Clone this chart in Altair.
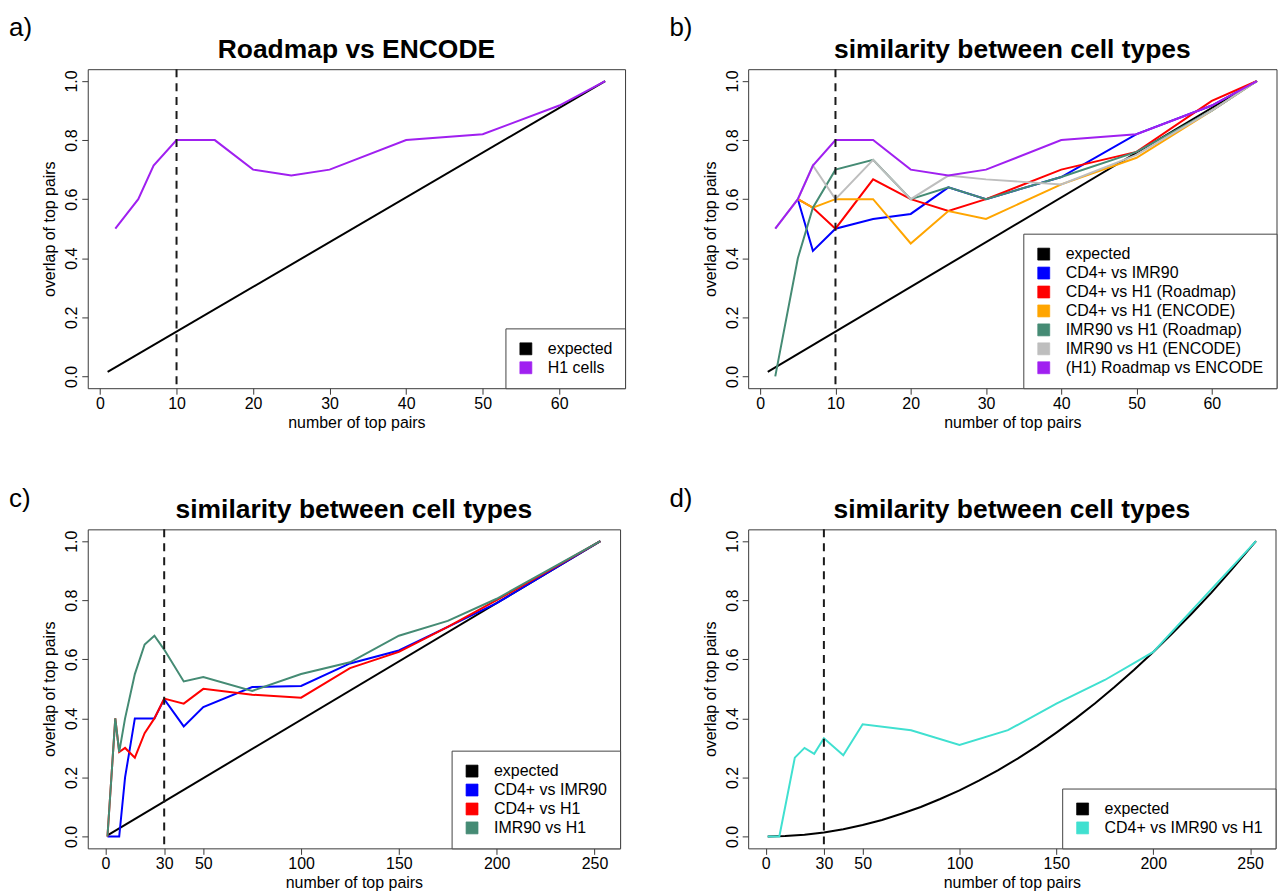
import altair as alt
import pandas as pd

FONT = "Liberation Sans"

# ---------------- panel a ----------------
a_x = [2, 5, 7, 10, 15, 20, 25, 30, 40, 50, 60, 66]
a_h1_cells = [0.5, 0.6, 0.714, 0.8, 0.8, 0.7, 0.68, 0.7, 0.8, 0.82, 0.917, 1.0]
a_exp_x = [1, 66]
a_exp_y = [0.015, 1.0]

# ---------------- panel b ----------------
b_x = [2, 5, 7, 10, 15, 20, 25, 30, 40, 50, 60, 66]
b_cd4_imr90 = [None, 0.6, 0.425, 0.5, 0.533, 0.55, 0.64, 0.6, 0.675, 0.82, 0.917, 1.0]
b_cd4_h1_roadmap = [None, 0.6, 0.571, 0.5, 0.667, 0.6, 0.56, 0.6, 0.7, 0.76, 0.933, 1.0]
b_cd4_h1_encode = [None, 0.6, 0.571, 0.6, 0.6, 0.45, 0.56, 0.533, 0.65, 0.74, 0.9, 1.0]
b_imr90_h1_roadmap = [0.0, 0.4, 0.571, 0.7, 0.733, 0.6, 0.64, 0.6, 0.675, 0.76, 0.9, 1.0]
b_imr90_h1_encode = [0.5, 0.6, 0.714, 0.6, 0.733, 0.6, 0.68, 0.667, 0.65, 0.75, 0.9, 1.0]
b_h1_roadmap_encode = [0.5, 0.6, 0.714, 0.8, 0.8, 0.7, 0.68, 0.7, 0.8, 0.82, 0.917, 1.0]
b_exp_x = [1, 66]
b_exp_y = [0.015, 1.0]

# ---------------- panel c ----------------
c_x = [1, 5, 7, 10, 15, 20, 25, 30, 40, 50, 75, 100, 125, 150, 175, 200, 253]
c_cd4_imr90 = [0, 0, 0, 0.2, 0.4, 0.4, 0.4, 0.465, 0.373, 0.438, 0.506, 0.51, 0.586, 0.63, 0.71, 0.79, 1.0]
c_cd4_h1 = [0, 0.4, 0.286, 0.3, 0.267, 0.35, 0.4, 0.467, 0.45, 0.5, 0.48, 0.47, 0.57, 0.625, 0.71, 0.8, 1.0]
c_imr90_h1 = [0, 0.4, 0.286, 0.4, 0.55, 0.65, 0.68, 0.633, 0.525, 0.54, 0.493, 0.55, 0.59, 0.68, 0.73, 0.805, 1.0]
c_exp_x = [1, 253]
c_exp_y = [0.004, 1.0]

# ---------------- panel d ----------------
d_x = [1, 5, 7, 10, 15, 20, 25, 30, 40, 50, 75, 100, 125, 150, 175, 200, 253]
d_cd4_imr90_h1 = [0, 0, 0, 0.1, 0.267, 0.3, 0.28, 0.333, 0.275, 0.38, 0.36, 0.31, 0.36, 0.45, 0.53, 0.625, 1.0]
d_exp_x = [1, 10, 20, 30, 40, 50, 60, 70, 80, 90, 100, 110, 120, 130, 140, 150,
           160, 170, 180, 190, 200, 210, 220, 230, 240, 253]
d_exp_y = [0.0, 0.002, 0.006, 0.014, 0.025, 0.039, 0.056, 0.077, 0.100, 0.127, 0.156,
           0.189, 0.225, 0.264, 0.306, 0.352, 0.400, 0.451, 0.506, 0.564, 0.625, 0.689,
           0.756, 0.826, 0.900, 1.0]

# vertical dashed cut-offs
ab_cut = [10]
cd_cut = [30]

ab_ticks = [0, 10, 20, 30, 40, 50, 60]
cd_ticks = [0, 30, 50, 100, 150, 200, 250]
y_ticks = [0.0, 0.2, 0.4, 0.6, 0.8, 1.0]

C_EXP = "#000000"
C_BLUE = "#0000FF"
C_RED = "#FF0000"
C_ORANGE = "#FFA500"
C_GREEN = "#458B74"
C_GRAY = "#BEBEBE"
C_PURPLE = "#A020F0"
C_TURQ = "#40E0D0"


def long_df(xs_list, ys_list, names):
    rows = []
    for xs, ys, n in zip(xs_list, ys_list, names):
        for xv, yv in zip(xs, ys):
            if yv is not None:
                rows.append({"x": xv, "y": yv, "series": n})
    return pd.DataFrame(rows)


def panel(df, names, colors, xdom, xticks, cut, title, label, label_y, w, h):
    x_enc = alt.X("x:Q",
                  scale=alt.Scale(domain=xdom, nice=False, zero=False),
                  axis=alt.Axis(values=xticks, title="number of top pairs",
                                labelPadding=1, titlePadding=3, labelFlush=False,
                                labelOverlap=False))
    y_enc = alt.Y("y:Q",
                  scale=alt.Scale(domain=[-0.04, 1.04], nice=False, zero=False),
                  axis=alt.Axis(values=y_ticks, format=".1f", title="overlap of top pairs",
                                labelAngle=270, labelAlign="center", labelBaseline="bottom",
                                labelPadding=2, titlePadding=6, labelFlush=False))
    s_enc = alt.Stroke("series:N", scale=alt.Scale(domain=names, range=colors), legend=None)
    f_enc = alt.Fill("series:N",
                     scale=alt.Scale(domain=names, range=colors),
                     legend=alt.Legend(title=None, orient="bottom-right", offset=0,
                                       strokeColor="#444", fillColor="white",
                                       padding=12.5, rowPadding=3,
                                       labelFont=FONT, labelFontSize=16, labelLimit=0,
                                       labelColor="black", labelOffset=14,
                                       symbolType="square", symbolSize=144,
                                       symbolStrokeColor="#222", symbolStrokeWidth=0.7,
                                       cornerRadius=0))
    base = alt.Chart(df)
    # invisible square marks that carry the legend (filled squares, as in R)
    keys = base.mark_square(filled=True, size=0, opacity=1, clip=True).encode(
        x=x_enc, y=y_enc, fill=f_enc
    )
    layers = [keys]
    for n in names:
        layers.append(
            base.transform_filter(alt.datum.series == n).mark_line(clip=True).encode(
                x=x_enc, y=y_enc, stroke=s_enc, strokeWidth=alt.value(2)
            )
        )
    rule = alt.Chart(pd.DataFrame({"x": cut})).mark_rule(
        strokeDash=[8, 6], strokeWidth=2, color="#1a1a1a"
    ).encode(x="x:Q")
    lab = alt.Chart(pd.DataFrame({"t": [label]})).mark_text(
        align="left", baseline="alphabetic", fontSize=26, font=FONT, color="black"
    ).encode(text="t:N", x=alt.value(-79), y=alt.value(label_y))
    ttl = alt.Chart(pd.DataFrame({"t": [title]})).mark_text(
        align="center", baseline="alphabetic", fontSize=26.5, fontWeight="bold",
        font=FONT, color="black"
    ).encode(text="t:N", x=alt.value(w / 2), y=alt.value(-11.5))
    return alt.layer(*layers, rule, lab, ttl).properties(width=w, height=h)


names_a = ["expected", "H1 cells"]
df_a = long_df([a_exp_x, a_x], [a_exp_y, a_h1_cells], names_a)

names_b = ["expected", "CD4+ vs IMR90", "CD4+ vs H1 (Roadmap)", "CD4+ vs H1 (ENCODE)",
           "IMR90 vs H1 (Roadmap)", "IMR90 vs H1 (ENCODE)", "(H1) Roadmap vs ENCODE"]
df_b = long_df([b_exp_x, b_x, b_x, b_x, b_x, b_x, b_x],
               [b_exp_y, b_cd4_imr90, b_cd4_h1_roadmap, b_cd4_h1_encode,
                b_imr90_h1_roadmap, b_imr90_h1_encode, b_h1_roadmap_encode], names_b)

names_c = ["expected", "CD4+ vs IMR90", "CD4+ vs H1", "IMR90 vs H1"]
df_c = long_df([c_exp_x, c_x, c_x, c_x], [c_exp_y, c_cd4_imr90, c_cd4_h1, c_imr90_h1], names_c)

names_d = ["expected", "CD4+ vs IMR90 vs H1"]
df_d = long_df([d_exp_x, d_x], [d_exp_y, d_cd4_imr90_h1], names_d)

pa = panel(df_a, names_a, [C_EXP, C_PURPLE], [-1.6, 68.6], ab_ticks, ab_cut,
           "Roadmap vs ENCODE", "a)", -33, 539, 320)
pb = panel(df_b, names_b, [C_EXP, C_BLUE, C_RED, C_ORANGE, C_GREEN, C_GRAY, C_PURPLE],
           [-1.6, 68.6], ab_ticks, ab_cut, "similarity between cell types", "b)", -33, 530, 320)
pc = panel(df_c, names_c, [C_EXP, C_BLUE, C_RED, C_GREEN], [-9.08, 263.08], cd_ticks, cd_cut,
           "similarity between cell types", "c)", -22, 534, 320)
pd_ = panel(df_d, names_d, [C_EXP, C_TURQ], [-9.08, 263.08], cd_ticks, cd_cut,
            "similarity between cell types", "d)", -22, 529, 320)

chart = alt.concat(
    pa, pb, pc, pd_, columns=2,
    spacing={"row": 141.6, "column": 123.5}, bounds="flush"
).resolve_scale(
    fill="independent", stroke="independent"
).resolve_legend(
    fill="independent"
).properties(
    padding={"left": 0, "top": 5, "right": 0, "bottom": 0},
    background="white",
).configure_view(
    stroke="#3a3a3a", strokeWidth=1
).configure_axis(
    grid=False, domain=False, tickColor="#3a3a3a", tickSize=6, tickWidth=1,
    labelFont=FONT, labelFontSize=16, labelColor="black",
    titleFont=FONT, titleFontSize=16, titleFontWeight="normal", titleColor="black",
)

chart.save("out.html", embed_options={"renderer": "svg", "actions": False})
